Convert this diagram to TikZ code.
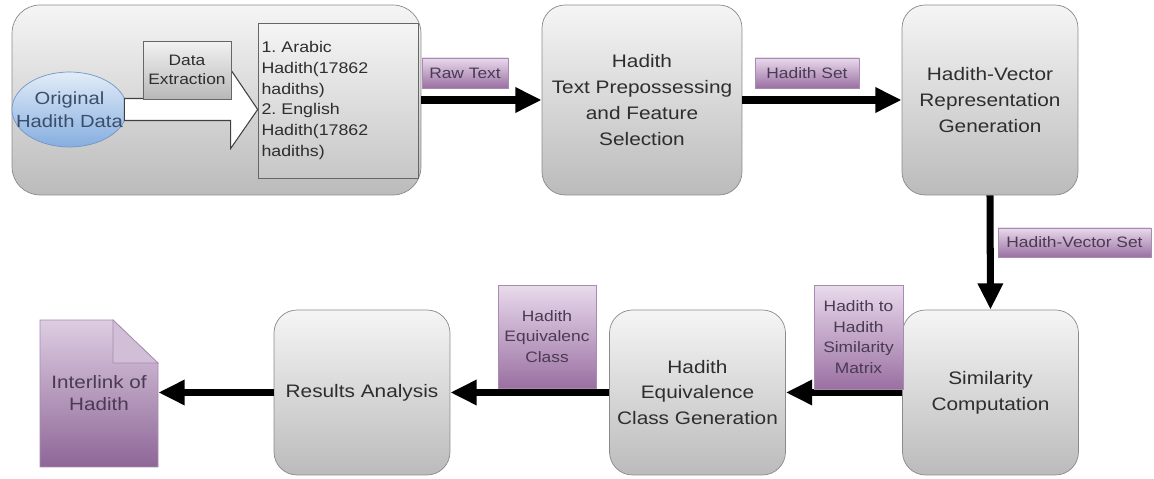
\documentclass[tikz,border=0pt]{standalone}
\usepackage{fontspec}
\setmainfont{Liberation Sans}[FakeStretch=1.15]
\usetikzlibrary{calc, positioning}
\usetikzlibrary{arrows.meta}
\usetikzlibrary{shapes.geometric}

\definecolor{boxline}{HTML}{8A8A8A}
\definecolor{boxtop}{HTML}{F5F5F5}
\definecolor{boxbot}{HTML}{BBBBBB}
\definecolor{inktext}{HTML}{2E2E2E}
\definecolor{tagtop}{HTML}{E9DAEC}
\definecolor{tagbot}{HTML}{9A70A2}
\definecolor{tagline}{HTML}{A98BB2}
\definecolor{tagtext}{HTML}{4A3A52}
\definecolor{doctop}{HTML}{DDCDE2}
\definecolor{docbot}{HTML}{8E6797}
\definecolor{ovaltop}{HTML}{E2ECF8}
\definecolor{ovalbot}{HTML}{86AEE0}
\definecolor{ovalline}{HTML}{7196C6}
\definecolor{ovaltext}{HTML}{3A4E6A}

\frenchspacing

\begin{document}
\begin{tikzpicture}[x=0.02cm, y=-0.02cm,
    stage/.style={rounded corners=0.46cm, draw=boxline, top color=boxtop, bottom color=boxbot,
      text=inktext, align=center, font=\fontsize{10.3}{14.7}\selectfont,
      minimum width=3.52cm, minimum height=3.3cm},
    tag/.style={draw=tagline, top color=tagtop, bottom color=tagbot, text=tagtext,
      align=center, font=\fontsize{8.6}{11.7}\selectfont, inner sep=0pt},
    flow/.style={line width=4pt, -{Triangle[length=15pt, width=13.6pt]}},
    hollow/.style={draw=black!75, fill=white, line width=0.6pt, line join=miter}
  ]
      \useasboundingbox (0,0) rectangle (1154,479);

      % top row
      \node[stage, minimum width=8.18cm, minimum height=3.8cm, rounded corners=0.56cm] (source) at (216.5,100) {};
      \node[ellipse, draw=ovalline, top color=ovaltop, bottom color=ovalbot,
        minimum width=2.3cm, minimum height=1.5cm, inner sep=0pt] (oval) at (69.5,109.5) {};
      \node[align=center, text=ovaltext, inner sep=0pt, font=\fontsize{10}{13}\selectfont] (ovaltext) at (oval)
        {Original\\Hadith Data};
      \node[draw=black!60, top color=black!4, bottom color=black!22, minimum width=3.2cm, minimum height=3.1cm,
        text width=3.06cm, inner xsep=0.07cm, align=left, text=inktext,
        font=\fontsize{8.8}{11.9}\selectfont] (list) at (338,100.5)
        {1. Arabic\\Hadith(17862\\hadiths)\\2. English\\Hadith(17862\\hadiths)};
      \draw[hollow] ($(oval.east)+(-3,-11)$) -- ++(107,0) -- ++(0,-28) -- (list.west |- oval.east)
        -- ++(-27,39) -- ++(0,-28) -- ($(oval.east)+(-3,11)$) -- cycle;
      \node[draw=black!60, top color=black!5, bottom color=black!28, minimum width=1.76cm, minimum height=1.16cm,
        inner sep=0pt, align=center, text=inktext, font=\fontsize{8.6}{10.8}\selectfont] (extract) at (187,70)
        {Data\\Extraction};

      \node[stage, minimum width=4cm, minimum height=3.8cm] (prep) at (642,100)
        {Hadith\\Text Prepossessing\\and Feature\\Selection};
      \node[stage, minimum height=3.8cm] (vec) at (990,100)
        {Hadith-Vector\\Representation\\Generation};

      % bottom row
      \node[stage] (sim) at (990.5,392.5) {Similarity\\Computation};
      \node[stage] (equiv) at (697.5,392.5) {Hadith\\Equivalence\\Class Generation};
      \node[stage] (results) at (362,392.5) {Results Analysis};

      \shade[draw=tagline, top color=doctop, bottom color=docbot]
        (40,320) -- (113,320) -- (158,363) -- (158,467) -- (40,467) -- cycle;
      \draw[draw=tagline, fill=doctop!85!docbot] (113,320) -- (113,363) -- (158,363) -- cycle;
      \node[minimum width=2.36cm, minimum height=2.94cm, inner sep=0pt, align=center, text=tagtext,
        font=\fontsize{10.2}{12.5}\selectfont] (interlink) at (99,393.5) {Interlink of\\Hadith};

      % connectors
      \draw[flow] (source.east) -- (prep.west);
      \draw[flow] (prep.east) -- (vec.west);
      \draw[flow] (vec.south) -- (sim.north);
      \draw[flow] (sim.west) -- (equiv.east);
      \draw[flow] (equiv.west) -- (results.east);
      \draw[flow] (results.west) -- (interlink.east |- results.west);

      % data labels
      \node[tag, minimum width=1.72cm, minimum height=0.6cm] (rawtext) at (465,73) {Raw Text};
      \node[tag, minimum width=2.08cm, minimum height=0.6cm] (hadithset) at (807,73) {Hadith Set};
      \node[tag, minimum width=3.06cm, minimum height=0.58cm] (vecset) at (1074.5,242.5) {Hadith-Vector Set};
      \node[tag, minimum width=1.78cm, minimum height=2.08cm] (simmatrix) at (858.5,337)
        {Hadith to\\Hadith\\Similarity\\Matrix};
      \node[tag, minimum width=1.96cm, minimum height=2.06cm] (eqclass) at (547,336.5)
        {Hadith\\Equivalenc\\Class};
    \end{tikzpicture}
\end{document}
